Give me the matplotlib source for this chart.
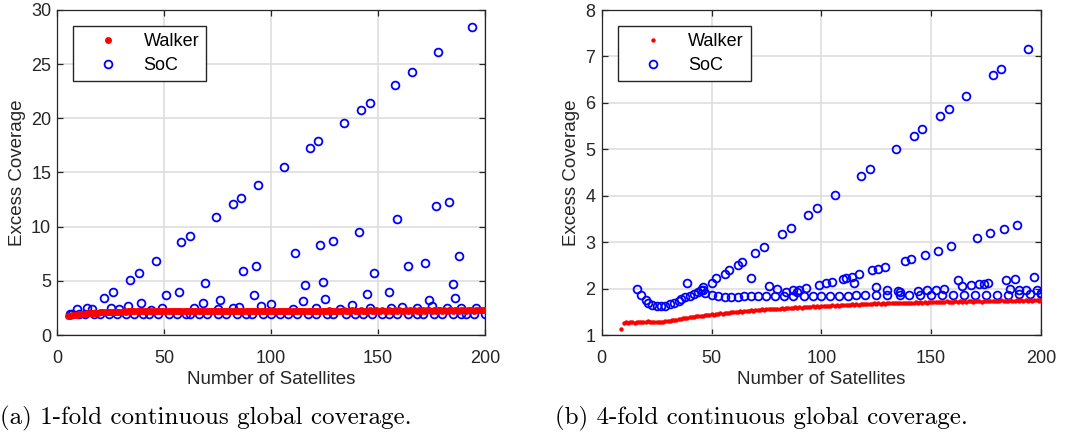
import matplotlib.pyplot as plt

# ---- (a) 1-fold coverage ----
walker_n_a = list(range(5, 201))
walker_a = [
    1.72, 1.77, 1.81, 1.85, 1.88, 1.91, 1.93, 1.96, 1.98, 1.99,
    2.01, 2.03, 2.04, 2.06, 2.07, 2.08, 2.10, 2.09, 2.11, 2.12,
    2.13, 2.12, 2.14, 2.15, 2.14, 2.16, 2.17, 2.15, 2.17, 2.18,
    2.17, 2.19, 2.18, 2.18, 2.20, 2.19, 2.18, 2.20, 2.21, 2.19,
    2.20, 2.21, 2.19, 2.22, 2.20, 2.21, 2.22, 2.20, 2.21, 2.23,
    2.21, 2.22, 2.20, 2.23, 2.22, 2.21, 2.23, 2.22, 2.24, 2.21,
    2.22, 2.23, 2.21, 2.24, 2.22, 2.23, 2.21, 2.24, 2.23, 2.22,
    2.24, 2.22, 2.23, 2.25, 2.22, 2.24, 2.23, 2.22, 2.25, 2.23,
    2.24, 2.22, 2.25, 2.23, 2.24, 2.22, 2.25, 2.24, 2.23, 2.25,
    2.22, 2.24, 2.25, 2.23, 2.24, 2.26, 2.23, 2.24, 2.25, 2.23,
    2.26, 2.24, 2.23, 2.25, 2.24, 2.26, 2.23, 2.25, 2.24, 2.26,
    2.24, 2.25, 2.23, 2.26, 2.25, 2.24, 2.26, 2.23, 2.25, 2.26,
    2.24, 2.25, 2.27, 2.24, 2.26, 2.25, 2.23, 2.26, 2.25, 2.27,
    2.24, 2.26, 2.25, 2.27, 2.24, 2.26, 2.25, 2.27, 2.24, 2.26,
    2.25, 2.27, 2.26, 2.24, 2.27, 2.25, 2.26, 2.28, 2.25, 2.26,
    2.27, 2.25, 2.26, 2.28, 2.25, 2.27, 2.26, 2.25, 2.28, 2.26,
    2.27, 2.25, 2.28, 2.26, 2.27, 2.25, 2.28, 2.26, 2.27, 2.28,
    2.25, 2.27, 2.26, 2.28, 2.27, 2.25, 2.28, 2.26, 2.27, 2.29,
    2.26, 2.27, 2.28, 2.26, 2.28, 2.27, 2.26, 2.29, 2.27, 2.28,
    2.26, 2.28, 2.27, 2.29, 2.27, 2.28,
]

soc_n_a = [
    # upper line
    22, 26, 34, 38, 46, 58, 62, 74, 82, 86, 94, 106, 118, 122, 134, 142, 146,
    158, 166, 178, 194,
    # middle points
    188, 183, 177, 172, 164, 159, 155, 148, 145, 141, 129, 125, 124, 123, 116,
    115, 111, 93, 92, 87, 76, 69, 68, 57, 51, 39, 33, 174, 185, 186, 138, 95,
    100, 161, 175,
    # second tier
    9, 14, 16, 25, 29, 44, 49, 64, 75, 82, 85, 110, 121, 132, 146, 156, 168,
    182, 189, 196,
    # baseline
    6, 7, 10, 13, 17, 20, 24, 28, 32, 36, 40, 43, 47, 52, 56, 60, 62, 66, 70,
    75, 79, 84, 88, 91, 96, 100, 104, 108, 112, 117, 121, 126, 129, 135, 139,
    143, 147, 152, 155, 159, 164, 168, 171, 176, 180, 185, 189, 191, 195, 200,
]
soc_a = [
    3.45, 3.97, 5.10, 5.69, 6.83, 8.55, 9.14, 10.9, 12.1, 12.6, 13.8, 15.5,
    17.3, 17.9, 19.6, 20.8, 21.4, 23.1, 24.3, 26.1, 28.4,
    7.26, 12.3, 11.9, 6.65, 6.37, 10.7, 4.00, 5.75, 3.78, 9.50, 8.70, 3.30,
    4.86, 8.30, 4.58, 3.10, 7.54, 6.34, 3.72, 5.94, 3.20, 4.77, 2.92, 4.00,
    3.66, 2.92, 2.65, 3.26, 4.68, 3.45, 2.74, 2.70, 2.83, 2.57, 2.72,
    2.40, 2.48, 2.44, 2.50, 2.37, 2.35, 2.50, 2.50, 2.42, 2.45, 2.55, 2.40,
    2.50, 2.41, 2.45, 2.45, 2.45, 2.45, 2.45, 2.46,
    1.90, 1.92, 1.95, 1.96, 1.96, 1.97, 1.96, 1.97, 1.96, 1.97, 1.96, 1.97,
    1.96, 1.97, 1.96, 1.97, 1.96, 1.97, 1.96, 1.97, 1.96, 1.97, 1.96, 1.97,
    1.96, 1.97, 1.96, 1.97, 1.96, 1.97, 1.96, 1.97, 1.96, 1.97, 1.96, 1.97,
    1.96, 1.97, 1.96, 1.97, 1.96, 1.97, 1.96, 1.97, 1.96, 1.97, 1.96, 1.97,
    1.96, 1.97,
]

# ---- (b) 4-fold coverage ----
walker_n_b = list(range(9, 201))
walker_b = [
    1.12,
    1.25, 1.27, 1.26, 1.28, 1.27, 1.26, 1.28, 1.27, 1.29, 1.27,
    1.28, 1.30, 1.27, 1.28, 1.29, 1.27, 1.28, 1.29, 1.28, 1.30,
    1.31, 1.30, 1.32, 1.33, 1.33, 1.35, 1.34, 1.36, 1.36, 1.37,
    1.38, 1.38, 1.39, 1.40, 1.40, 1.42, 1.41, 1.43, 1.43, 1.44,
    1.45, 1.44, 1.46, 1.46, 1.47, 1.46, 1.48, 1.47, 1.48, 1.49,
    1.49, 1.50, 1.49, 1.51, 1.50, 1.52, 1.51, 1.52, 1.53, 1.52,
    1.53, 1.54, 1.53, 1.55, 1.54, 1.55, 1.56, 1.55, 1.56, 1.57,
    1.56, 1.57, 1.58, 1.57, 1.58, 1.59, 1.58, 1.59, 1.60, 1.59,
    1.60, 1.59, 1.61, 1.60, 1.61, 1.60, 1.62, 1.61, 1.62, 1.61,
    1.62, 1.63, 1.62, 1.63, 1.62, 1.64, 1.63, 1.64, 1.63, 1.64,
    1.65, 1.64, 1.65, 1.64, 1.66, 1.65, 1.66, 1.65, 1.66, 1.67,
    1.66, 1.67, 1.66, 1.67, 1.68, 1.67, 1.68, 1.67, 1.68, 1.67,
    1.68, 1.69, 1.68, 1.69, 1.68, 1.69, 1.70, 1.69, 1.70, 1.69,
    1.70, 1.69, 1.70, 1.71, 1.70, 1.71, 1.70, 1.71, 1.70, 1.71,
    1.72, 1.71, 1.72, 1.71, 1.72, 1.71, 1.72, 1.73, 1.72, 1.71,
    1.72, 1.73, 1.72, 1.73, 1.72, 1.73, 1.72, 1.74, 1.73, 1.72,
    1.73, 1.74, 1.73, 1.72, 1.74, 1.73, 1.74, 1.73, 1.74, 1.73,
    1.74, 1.73, 1.75, 1.74, 1.73, 1.74, 1.75, 1.74, 1.73, 1.75,
    1.74, 1.75, 1.74, 1.75, 1.74, 1.75, 1.74, 1.76, 1.75, 1.74,
    1.75,
]

soc_n_b = [
    # upper line
    46, 50, 52, 56, 58, 62, 64, 70, 74, 82, 86, 94, 98, 106, 118, 122, 134,
    142, 146, 154, 158, 166, 178, 182, 194,
    # second line
    99, 102, 105, 110, 111, 114, 117, 123, 126, 129, 138, 141, 147, 153, 159,
    171, 177, 183, 189, 115, 68, 39,
    # early dip
    16, 18, 20, 21, 23, 25, 27, 29, 31, 33, 35, 36, 38, 40, 42, 44, 45, 46,
    # baseline
    47, 50, 53, 56, 59, 62, 65, 68, 71, 75, 79, 83, 87, 92, 96, 100, 104, 108,
    112, 116, 120, 125, 130, 136, 140, 145, 150, 155, 160, 165, 170, 175, 180,
    185, 190, 195, 200,
    # middle tier
    76, 80, 84, 87, 89, 90, 93, 125, 130, 135, 136, 144, 148, 152, 156, 162,
    164, 168, 172, 174, 176, 184, 186, 188, 190, 193, 197, 198, 200,
]
soc_b = [
    2.04, 2.13, 2.22, 2.31, 2.40, 2.51, 2.57, 2.77, 2.90, 3.17, 3.31, 3.58,
    3.73, 4.01, 4.43, 4.57, 5.01, 5.29, 5.44, 5.72, 5.87, 6.15, 6.59, 6.74,
    7.17,
    2.07, 2.11, 2.15, 2.20, 2.22, 2.26, 2.31, 2.39, 2.43, 2.47, 2.60, 2.64,
    2.73, 2.82, 2.91, 3.10, 3.19, 3.28, 3.37, 2.11, 2.22, 2.11,
    2.00, 1.86, 1.75, 1.68, 1.65, 1.63, 1.63, 1.63, 1.66, 1.69, 1.74, 1.78,
    1.81, 1.84, 1.88, 1.92, 1.96, 1.98,
    1.90, 1.86, 1.83, 1.82, 1.82, 1.82, 1.83, 1.83, 1.83, 1.84, 1.84, 1.85,
    1.85, 1.85, 1.85, 1.85, 1.85, 1.85, 1.85, 1.86, 1.86, 1.86, 1.86, 1.86,
    1.86, 1.86, 1.86, 1.86, 1.87, 1.87, 1.87, 1.87, 1.87, 1.87, 1.88, 1.88,
    1.89,
    2.05, 1.99, 1.92, 1.96, 1.93, 1.98, 2.02, 2.03, 1.98, 1.95, 1.92, 1.94,
    1.96, 1.98, 2.00, 2.18, 2.05, 2.08, 2.10, 2.10, 2.13, 2.18, 2.00, 2.21,
    1.97, 1.98, 2.26, 1.96, 1.90,
]

captions = ["(a) 1-fold continuous global coverage.",
            "(b) 4-fold continuous global coverage."]

fig = plt.figure(figsize=(10.85, 4.4), dpi=100)
ax_a = fig.add_axes([57.4 / 1085, 105 / 440, 427.6 / 1085, 325 / 440])
ax_b = fig.add_axes([601.7 / 1085, 105 / 440, 439.3 / 1085, 325 / 440])

dark = '#262626'
sans = 'Liberation Sans'


def style(ax, ylim, yticks):
    ax.set_xlim(0, 200)
    ax.set_ylim(*ylim)
    ax.set_xticks([0, 50, 100, 150, 200])
    ax.set_yticks(yticks)
    ax.grid(True, color='#dedede', linewidth=1.2)
    ax.set_axisbelow(True)
    for s in ax.spines.values():
        s.set_color(dark)
        s.set_linewidth(0.9)
    ax.tick_params(direction='in', top=True, right=True, length=4,
                   width=0.9, color=dark, labelcolor=dark, labelsize=13)
    ax.tick_params(axis='x', pad=10.5)
    ax.tick_params(axis='y', pad=4.5)
    for lab in ax.get_xticklabels() + ax.get_yticklabels():
        lab.set_family(sans)
    ax.set_xlabel('Number of Satellites', fontsize=13.5, family=sans,
                  color=dark, labelpad=3)
    ax.set_ylabel('Excess Coverage', fontsize=13.5, family=sans,
                  color=dark, labelpad=3.5)


panels = [
    (ax_a, walker_n_a, walker_a, soc_n_a, soc_a, (0, 30),
     [0, 5, 10, 15, 20, 25, 30], 5.0, 0.037),
    (ax_b, walker_n_b, walker_b, soc_n_b, soc_b, (1, 8),
     [1, 2, 3, 4, 5, 6, 7, 8], 3.2, 0.0364),
]
for ax, wn, wv, sn, sv, ylim, yt, wms, lx in panels:
    h_soc, = ax.plot(sn, sv, 'o', mfc='none', mec='#0000ff', ms=5.6, mew=1.3,
                     linestyle='none', zorder=3)
    h_w, = ax.plot(wn, wv, 'o', color='#ff0000', ms=wms, mew=0,
                   linestyle='none', zorder=4)
    style(ax, ylim, yt)
    leg = ax.legend([h_w, h_soc], ['Walker', 'SoC'], loc='upper left',
                    bbox_to_anchor=(lx, 0.952),
                    prop={'family': sans, 'size': 13},
                    fancybox=False, framealpha=1, edgecolor=dark,
                    handlelength=3.1, handletextpad=0.4, borderpad=0.4,
                    labelspacing=0.4, borderaxespad=0)
    leg.get_frame().set_linewidth(1.0)

fig.text(0.0, 0.05, captions[0], fontsize=18, family='cmr10',
         ha='left', va='center')
fig.text(555 / 1085, 0.05, captions[1], fontsize=18, family='cmr10',
         ha='left', va='center')

fig.savefig('out.png', dpi=100)
